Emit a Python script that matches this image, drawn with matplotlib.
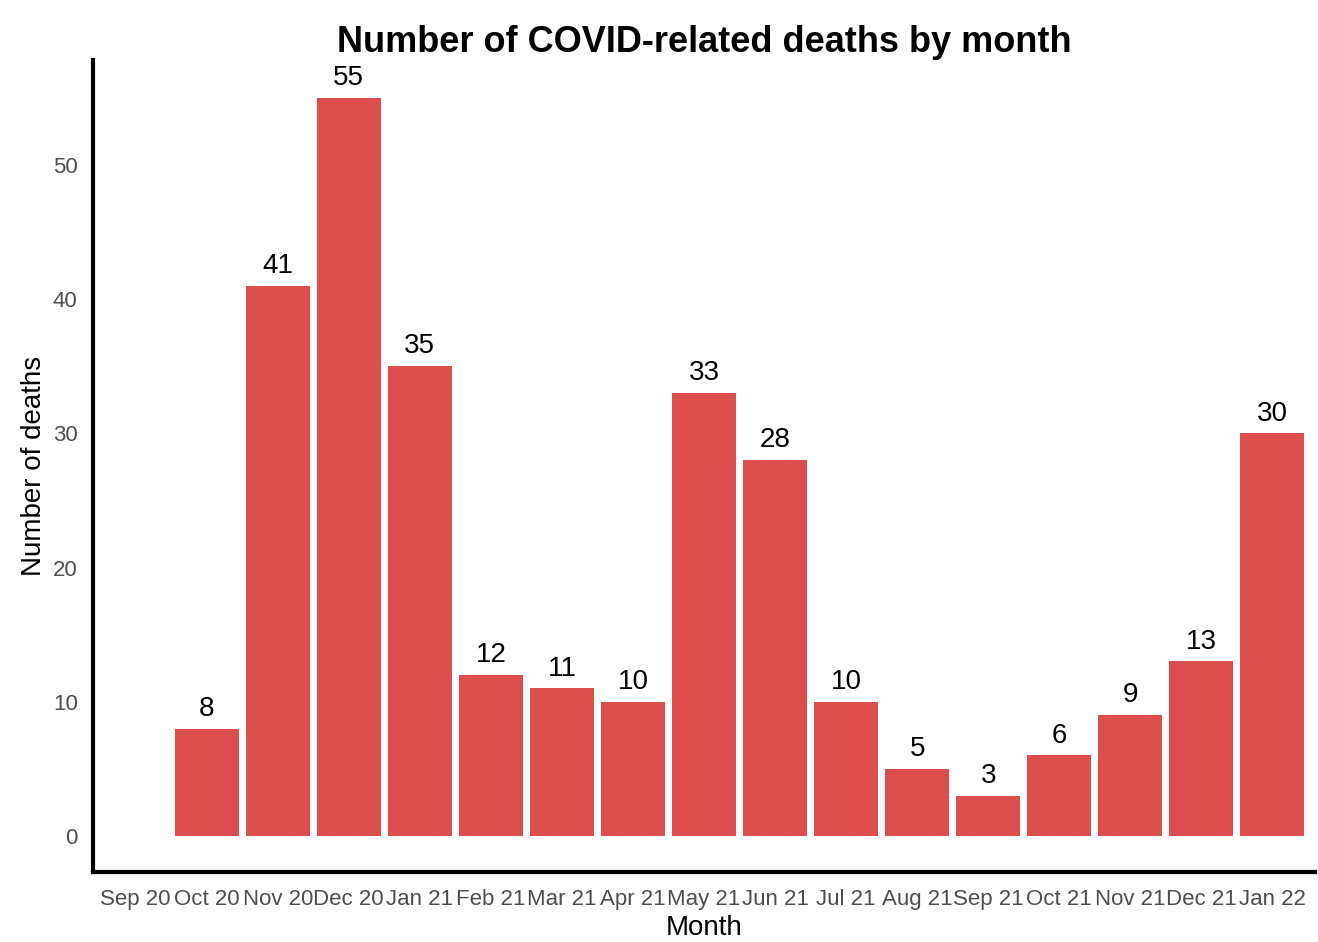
import matplotlib
matplotlib.use('Agg')
import matplotlib.pyplot as plt

months = ['Sep 20', 'Oct 20', 'Nov 20', 'Dec 20', 'Jan 21', 'Feb 21', 'Mar 21', 'Apr 21',
          'May 21', 'Jun 21', 'Jul 21', 'Aug 21', 'Sep 21', 'Oct 21', 'Nov 21', 'Dec 21', 'Jan 22']
deaths = [0, 8, 41, 55, 35, 12, 11, 10, 33, 28, 10, 5, 3, 6, 9, 13, 30]

plt.rcParams['font.family'] = ['Liberation Sans', 'DejaVu Sans']

fig = plt.figure(figsize=(13.18, 9.42), dpi=100)
ax = fig.add_axes([93 / 1318, 1 - 872 / 942, (1315 - 93) / 1318, (872 - 60) / 942])

x = list(range(len(months)))
ax.bar(x, deaths, width=0.9, color='#DC4E4E')
for xi, v in zip(x, deaths):
    if v > 0:
        ax.text(xi, v + 0.5, str(v), ha='center', va='bottom', fontsize=20, color='black')

ax.set_xlim(-0.6, len(months) - 0.4)
ax.set_ylim(-2.68, 57.8)
ax.set_xticks(x)
ax.set_xticklabels(months)
ax.set_yticks([0, 10, 20, 30, 40, 50])
ax.tick_params(axis='both', length=0, labelsize=16, labelcolor='#4d4d4d')
ax.tick_params(axis='x', pad=12)
ax.tick_params(axis='y', pad=11)

for side in ['top', 'right']:
    ax.spines[side].set_visible(False)
for side in ['left', 'bottom']:
    ax.spines[side].set_linewidth(3)
    ax.spines[side].set_color('black')

ax.set_xlabel('Month', fontsize=20, labelpad=4)
ax.set_ylabel('Number of deaths', fontsize=20, labelpad=4)
ax.set_title('Number of COVID-related deaths by month', fontsize=26, fontweight='bold', pad=2)

fig.savefig('out.png', dpi=100, facecolor='white')
